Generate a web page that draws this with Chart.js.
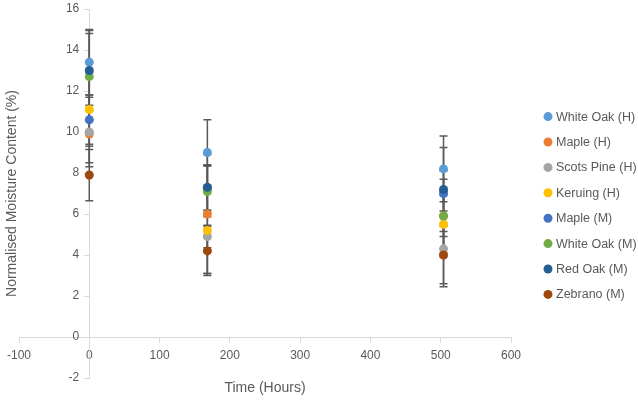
<!DOCTYPE html>
<html><head><meta charset="utf-8">
<script src="https://cdn.jsdelivr.net/npm/chart.js@4"></script>
<style>html,body{margin:0;padding:0;background:#fff}</style>
</head><body>
<canvas id="c" width="638" height="400"></canvas>
<script>
// ---- data ----
const hours = [0, 168, 504];
const seriesNames = ['White Oak (H)', 'Maple (H)', 'Scots Pine (H)', 'Keruing (H)', 'Maple (M)', 'White Oak (M)', 'Red Oak (M)', 'Zebrano (M)'];
const whiteOakH = [13.4, 9.0, 8.2];
const mapleH = [9.9, 6.0, 5.9];
const scotsPineH = [10.0, 4.9, 4.3];
const keruingH = [11.1, 5.2, 5.5];
const mapleM = [10.6, 7.25, 7.0];
const whiteOakM = [12.7, 7.1, 5.9];
const redOakM = [13.0, 7.3, 7.2];
const zebranoM = [7.9, 4.2, 4.0];
const whiteOakHErr = [1.6, 1.6, 1.6];
const mapleHErr = [1.4, 2.9, 1.8];
const scotsPineHErr = [1.7, 0.55, 1.85];
const keruingHErr = [1.8, 2.1, 1.6];
const mapleMErr = [1.2, 1.1, 1.1];
const whiteOakMErr = [2.1, 1.24, 1.0];
const redOakMErr = [1.95, 1.1, 2.05];
const zebranoMErr = [1.25, 1.2, 1.4];
const xTickLabels = [-100, 0, 100, 200, 300, 400, 500, 600];
const yTickLabels = [-2, 0, 2, 4, 6, 8, 10, 12, 14, 16];
const colors = ['#5B9BD5', '#ED7D31', '#A5A5A5', '#FFC000', '#4472C4', '#70AD47', '#255E91', '#9E480E'];

const seriesValues = [whiteOakH, mapleH, scotsPineH, keruingH, mapleM, whiteOakM, redOakM, zebranoM];
const seriesErrors = [whiteOakHErr, mapleHErr, scotsPineHErr, keruingHErr, mapleMErr, whiteOakMErr, redOakMErr, zebranoMErr];

const FONT = "'Liberation Sans', Arial, sans-serif";
const TXT = '#595959';
const AXIS = '#d9d9d9';

const datasets = seriesNames.map((name, i) => ({
  label: name,
  data: hours.map((h, j) => ({x: h, y: seriesValues[i][j]})),
  errors: seriesErrors[i],
  backgroundColor: colors[i],
  borderColor: colors[i],
  borderWidth: 0,
  pointRadius: 4.5,
  pointHoverRadius: 4.5,
  showLine: false,
  order: seriesNames.length - i
}));

const errorBarPlugin = {
  id: 'errorBars',
  beforeDatasetsDraw(chart) {
    const ctx = chart.ctx;
    const xs = chart.scales.x, ys = chart.scales.y;
    ctx.save();
    ctx.strokeStyle = '#595959';
    ctx.lineWidth = 1.5;
    chart.data.datasets.forEach(ds => {
      ds.data.forEach((p, j) => {
        const e = ds.errors[j];
        const px = xs.getPixelForValue(p.x);
        const top = ys.getPixelForValue(p.y + e);
        const bot = ys.getPixelForValue(p.y - e);
        ctx.beginPath();
        ctx.moveTo(px, top); ctx.lineTo(px, bot);
        ctx.moveTo(px - 4, top); ctx.lineTo(px + 4, top);
        ctx.moveTo(px - 4, bot); ctx.lineTo(px + 4, bot);
        ctx.stroke();
      });
    });
    ctx.restore();
  }
};

const decorPlugin = {
  id: 'decor',
  afterDraw(chart) {
    const ctx = chart.ctx;
    const ca = chart.chartArea;
    const xs = chart.scales.x, ys = chart.scales.y;
    ctx.save();
    ctx.fillStyle = TXT;
    // y tick labels beside the axis crossing at x = 0
    ctx.font = '12px ' + FONT;
    ctx.textAlign = 'right';
    ctx.textBaseline = 'middle';
    const axX = xs.getPixelForValue(0);
    yTickLabels.forEach(v => ctx.fillText(String(v), axX - 10, ys.getPixelForValue(v)));
    // axis titles
    ctx.font = '14px ' + FONT;
    ctx.textAlign = 'center';
    ctx.fillText('Time (Hours)', (ca.left + ca.right) / 2, ca.bottom + 10);
    ctx.save();
    ctx.translate(12, (ca.top + ca.bottom) / 2);
    ctx.rotate(-Math.PI / 2);
    ctx.fillText('Normalised Moisture Content (%)', 0, 0);
    ctx.restore();
    // legend
    ctx.font = '12.5px ' + FONT;
    ctx.textAlign = 'left';
    const mx = ca.right + 37;
    const rowH = 25.4;
    const y0 = (ca.top + ca.bottom) / 2 + 12 - rowH * (seriesNames.length - 1) / 2;
    seriesNames.forEach((n, i) => {
      const y = y0 + i * rowH;
      ctx.fillStyle = colors[i];
      ctx.beginPath();
      ctx.arc(mx, y, 4.5, 0, Math.PI * 2);
      ctx.fill();
      ctx.fillStyle = TXT;
      ctx.fillText(n, mx + 8, y + 0.5);
    });
    ctx.restore();
  }
};

new Chart(document.getElementById('c'), {
  type: 'scatter',
  data: {datasets},
  options: {
    responsive: false,
    animation: false,
    devicePixelRatio: 1,
    layout: {padding: {left: 19, right: 127, top: 9, bottom: 22}},
    plugins: {legend: {display: false}, tooltip: {enabled: false}},
    scales: {
      x: {
        type: 'linear',
        min: xTickLabels[0], max: xTickLabels[xTickLabels.length - 1],
        position: {y: 0},
        afterBuildTicks: s => { s.ticks = xTickLabels.map(v => ({value: v})); },
        grid: {display: true, drawOnChartArea: false, drawTicks: true, tickLength: 5, color: AXIS},
        border: {display: true, color: AXIS, width: 1},
        ticks: {color: TXT, font: {family: FONT, size: 12}, padding: 6, maxRotation: 0}
      },
      y: {
        type: 'linear',
        min: yTickLabels[0], max: yTickLabels[yTickLabels.length - 1],
        position: {x: 0},
        afterBuildTicks: s => { s.ticks = yTickLabels.map(v => ({value: v})); },
        grid: {display: true, drawOnChartArea: false, drawTicks: true, tickLength: 5, color: AXIS},
        border: {display: true, color: AXIS, width: 1},
        ticks: {display: false}
      }
    }
  },
  plugins: [errorBarPlugin, decorPlugin]
});
</script>
</body></html>
